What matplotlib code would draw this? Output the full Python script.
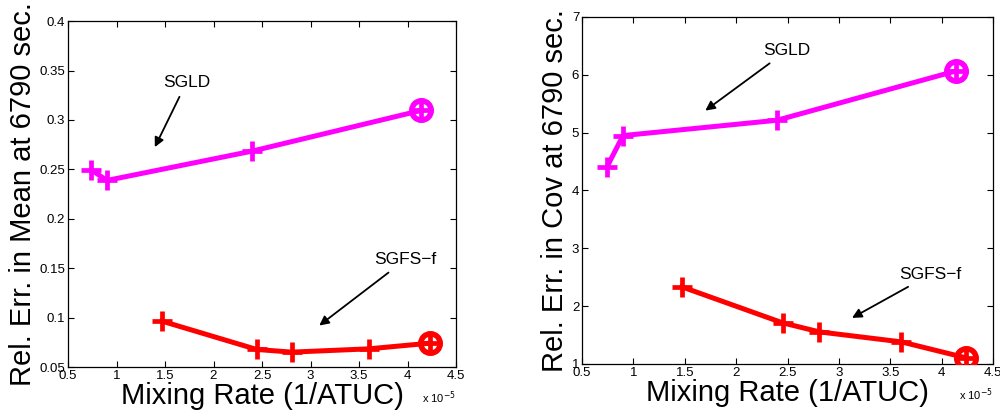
import matplotlib
matplotlib.use("Agg")
import matplotlib.pyplot as plt

plt.rcParams['font.family'] = ['Liberation Sans', 'DejaVu Sans']

# x values in units of 1e-5 (1/ATUC)
sgld_mean_x = [0.74, 0.90, 2.40, 4.14]
sgld_mean_y = [0.2496, 0.2388, 0.2685, 0.3096]
sgfs_mean_x = [1.47, 2.445, 2.806, 3.598, 4.235]
sgfs_mean_y = [0.0965, 0.0679, 0.0652, 0.0685, 0.0743]

sgld_cov_x = [0.743, 0.899, 2.398, 4.14]
sgld_cov_y = [4.406, 4.948, 5.213, 6.066]
sgfs_cov_x = [1.473, 2.453, 2.81, 3.608, 4.237]
sgfs_cov_y = [2.331, 1.709, 1.553, 1.38, 1.104]

x_ticks = [0.5, 1, 1.5, 2, 2.5, 3, 3.5, 4, 4.5]
mean_ticks = [0.05, 0.1, 0.15, 0.2, 0.25, 0.3, 0.35, 0.4]
cov_ticks = [1, 2, 3, 4, 5, 6, 7]

MAG = (1, 0, 1)
RED = (1, 0, 0)

fig = plt.figure(figsize=(10, 4.13), dpi=100)
ax1 = fig.add_axes([0.068, 0.111, 0.388, 0.838])
ax2 = fig.add_axes([0.582, 0.119, 0.411, 0.840])


def draw(ax, lx, ly, fx, fy):
    for xs, ys, c in [(lx, ly, MAG), (fx, fy, RED)]:
        ax.plot(xs, ys, color=c, lw=3.6, marker='+', ms=14, mew=3.4, zorder=3)
        ax.plot(xs[-1:], ys[-1:], linestyle='none', marker='o', ms=14,
                mfc='none', mec=c, mew=4, zorder=4)


def style(ax, yticks, ylabel, ylabels):
    ax.set_xlim(0.5, 4.5)
    ax.set_ylim(yticks[0], yticks[-1])
    ax.set_xticks(x_ticks)
    ax.set_xticklabels([f"{t:g}" for t in x_ticks])
    ax.set_yticks(yticks)
    ax.set_yticklabels(ylabels)
    ax.tick_params(direction='in', top=True, right=True, labelsize=9.5,
                   length=4, width=0.8, pad=2)
    for s in ax.spines.values():
        s.set_linewidth(0.9)
    ax.set_xlabel("Mixing Rate (1/ATUC)", fontsize=21, labelpad=0)
    ax.set_ylabel(ylabel, fontsize=21, labelpad=2)
    ax.text(1.0, -0.065, r"x 10$^{-5}$", transform=ax.transAxes,
            fontsize=8, ha='right', va='top')


ARROW = dict(arrowstyle='-|>', color='black', lw=1.3,
             shrinkA=3, shrinkB=0, mutation_scale=14)

draw(ax1, sgld_mean_x, sgld_mean_y, sgfs_mean_x, sgfs_mean_y)
style(ax1, mean_ticks, "Rel. Err. in Mean at 6790 sec.",
      ["0.05", "0.1", "0.15", "0.2", "0.25", "0.3", "0.35", "0.4"])
ax1.annotate("SGLD", xy=(1.395, 0.2725), xytext=(1.72, 0.3376),
             fontsize=12.5, ha='center', va='center', arrowprops=ARROW)
ax1.annotate("SGFS\u2212f", xy=(3.09, 0.0921), xytext=(3.977, 0.1586),
             fontsize=12.5, ha='center', va='center', arrowprops=ARROW)

draw(ax2, sgld_cov_x, sgld_cov_y, sgfs_cov_x, sgfs_cov_y)
style(ax2, cov_ticks, "Rel. Err. in Cov at 6790 sec.",
      [str(t) for t in cov_ticks])
ax2.annotate("SGLD", xy=(1.70, 5.38), xytext=(2.495, 6.418),
             fontsize=12.5, ha='center', va='center', arrowprops=ARROW)
ax2.annotate("SGFS\u2212f", xy=(3.128, 1.795), xytext=(3.89, 2.545),
             fontsize=12.5, ha='center', va='center', arrowprops=ARROW)

fig.savefig("out.png", dpi=100)
